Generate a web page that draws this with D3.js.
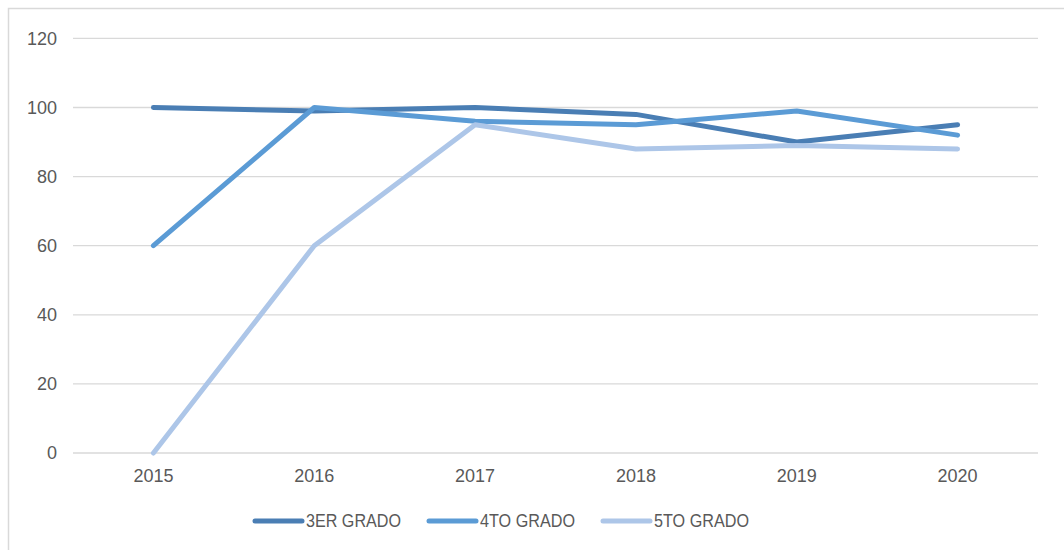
<!DOCTYPE html>
<html>
<head>
<meta charset="utf-8">
<script src="https://cdn.jsdelivr.net/npm/d3@7"></script>
<style>
  body { margin: 0; background: #fff; }
  text { font-family: "Liberation Sans", Arial, sans-serif; fill: #595959; }
</style>
</head>
<body>
<script>
// chart data
const years = ["2015", "2016", "2017", "2018", "2019", "2020"];
const tercero = [100, 99, 100, 98, 90, 95];
const cuarto = [60, 100, 96, 95, 99, 92];
const quinto = [0, 60, 95, 88, 89, 88];
const seriesNames = ["3ER GRADO", "4TO GRADO", "5TO GRADO"];
const yTicks = [0, 20, 40, 60, 80, 100, 120];

const colors = ["#4a7eb4", "#5b9bd5", "#adc6e8"];
const series = [tercero, cuarto, quinto].map((vals, i) => ({ name: seriesNames[i], values: vals, color: colors[i] }));

const width = 1064, height = 550;
const svg = d3.select("body")
    .append("svg")
    .attr("width", width)
    .attr("height", height);

// outer chart border
svg.append("rect")
    .attr("x", 8.5).attr("y", 8.5)
    .attr("width", 1070).attr("height", 560)
    .attr("fill", "none")
    .attr("stroke", "#d9d9d9")
    .attr("stroke-width", 1.5);

const x = d3.scaleBand().domain(years).range([73, 1038]);
const y = d3.scaleLinear().domain([0, 120]).range([453, 38.4]);

// gridlines
svg.append("g")
    .selectAll("line")
    .data(yTicks)
    .enter()
    .append("line")
    .attr("x1", 73).attr("x2", 1038)
    .attr("y1", d => y(d)).attr("y2", d => y(d))
    .attr("stroke", "#d9d9d9")
    .attr("stroke-width", 1.3);

// y labels
svg.append("g")
    .selectAll("text")
    .data(yTicks)
    .enter()
    .append("text")
    .attr("x", 57)
    .attr("y", d => y(d))
    .attr("dy", "0.35em")
    .attr("text-anchor", "end")
    .style("font-size", "18px")
    .text(d => d);

// x labels
svg.append("g")
    .selectAll("text")
    .data(years)
    .enter()
    .append("text")
    .attr("x", d => x(d) + x.bandwidth() / 2)
    .attr("y", 482)
    .attr("text-anchor", "middle")
    .style("font-size", "18px")
    .text(d => d);

const line = d3.line()
    .x((d, i) => x(years[i]) + x.bandwidth() / 2)
    .y(d => y(d));

svg.append("g")
    .selectAll("path")
    .data(series)
    .enter()
    .append("path")
    .attr("d", d => line(d.values))
    .attr("fill", "none")
    .attr("stroke", d => d.color)
    .attr("stroke-width", 5)
    .attr("stroke-linecap", "round")
    .attr("stroke-linejoin", "round");

// legend
const legendX = [255, 429, 603];
const legend = svg.append("g")
    .selectAll("g")
    .data(series)
    .enter()
    .append("g")
    .attr("transform", (d, i) => `translate(${legendX[i]},521)`);

legend.append("line")
    .attr("x1", 0).attr("x2", 47)
    .attr("stroke", d => d.color)
    .attr("stroke-width", 5)
    .attr("stroke-linecap", "round");

legend.append("text")
    .attr("x", 51)
    .attr("dy", "0.35em")
    .attr("textLength", 95)
    .attr("lengthAdjust", "spacingAndGlyphs")
    .style("font-size", "18px")
    .text(d => d.name);
</script>
</body>
</html>
